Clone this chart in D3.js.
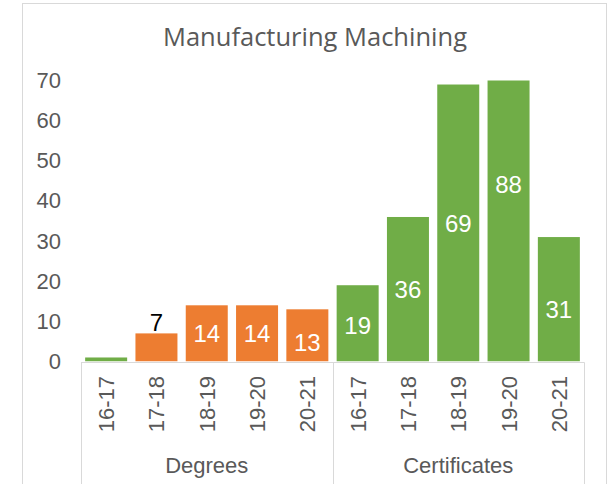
<!DOCTYPE html>
<html>
<head>
<meta charset="utf-8">
<script src="https://cdn.jsdelivr.net/npm/d3@7"></script>
<style>
  html, body { margin: 0; padding: 0; background: #fff; }
  svg { display: block; }
</style>
</head>
<body>
<script>
// chart data
var title = 'Manufacturing Machining';
var groups = ['Degrees', 'Certificates'];
var years = ['16-17', '17-18', '18-19', '19-20', '20-21'];
var degrees = [1, 7, 14, 14, 13];
var certificates = [19, 36, 69, 88, 31];
var yTicks = [0, 10, 20, 30, 40, 50, 60, 70];

var width = 611, height = 484;
var orange = '#ED7D31', green = '#70AD47';
var axisFont = '"Liberation Sans", Arial, sans-serif';

// flatten to one row per bar
var rows = [];
groups.forEach(function (g, gi) {
  var vals = gi === 0 ? degrees : certificates;
  years.forEach(function (y, i) {
    rows.push({ group: g, year: y, key: g + '|' + y, value: vals[i], idx: gi * 5 + i });
  });
});

var svg = d3.select('body').append('svg')
  .attr('width', width).attr('height', height)
  .style('font-family', axisFont);

// outer chart frame
svg.append('rect')
  .attr('x', 22.5).attr('y', 3.5)
  .attr('width', 584).attr('height', 520)
  .attr('fill', '#fff').attr('stroke', '#d9d9d9');

svg.append('text')
  .attr('x', 315).attr('y', 46)
  .attr('text-anchor', 'middle')
  .style('font-family', '"Open Sans", sans-serif')
  .style('font-size', '25.5px')
  .attr('fill', '#595959')
  .text(title);

var x = d3.scaleBand()
  .domain(rows.map(function (d) { return d.key }))
  .range([81, 584])
  .paddingInner(0.165)
  .paddingOuter(0.0825);

var y = d3.scaleLinear().domain([0, 70]).range([361.5, 80.5]);

svg.append('clipPath').attr('id', 'plot')
  .append('rect').attr('x', 81).attr('y', y(70)).attr('width', 503).attr('height', y(0) - y(70));

// y axis labels only, no line
var yAxis = svg.append('g')
  .attr('transform', 'translate(61,0)')
  .call(d3.axisLeft(y).tickValues(yTicks).tickSize(0).tickPadding(0));
yAxis.select('.domain').remove();
yAxis.selectAll('text')
  .style('font-size', '22px')
  .style('font-family', axisFont)
  .attr('fill', '#595959');

// bars, first degree point is green in the source
function barColor(d) {
  if (d.idx === 0) return green;
  return d.group === 'Degrees' ? orange : green;
}

svg.append('g').attr('clip-path', 'url(#plot)')
  .selectAll('rect')
  .data(rows)
  .enter()
  .append('rect')
  .attr('x', function (d) { return x(d.key) })
  .attr('width', x.bandwidth())
  .attr('y', function (d) { return y(d.value) })
  .attr('height', function (d) { return y(0) - y(d.value) })
  .attr('fill', barColor);

// data labels: centred in the bar, small ones sit above
var nudge = { 4: 7.5, 5: 2.5, 9: 10 };
svg.append('g')
  .selectAll('text')
  .data(rows.filter(function (d) { return d.value > 1 }))
  .enter()
  .append('text')
  .attr('x', function (d) { return x(d.key) + x.bandwidth() / 2 })
  .attr('y', function (d) {
    if (d.value < 10) return y(d.value) - 2;
    return (y(d.value) + y(0)) / 2 + 8.5 + (nudge[d.idx] || 0);
  })
  .attr('text-anchor', 'middle')
  .style('font-size', '24px')
  .attr('fill', function (d) { return d.value < 10 ? '#000' : '#fff' })
  .text(function (d) { return d.value });

// category axis
var axisG = svg.append('g');
axisG.append('line')
  .attr('x1', 81).attr('x2', 584.5)
  .attr('y1', 362.5).attr('y2', 362.5)
  .attr('stroke', '#d9d9d9');

var groupEdges = [81, (x(rows[4].key) + x.bandwidth() + x(rows[5].key)) / 2, 584];
axisG.selectAll('line.sep')
  .data(groupEdges)
  .enter()
  .append('line')
  .attr('class', 'sep')
  .attr('x1', function (d) { return Math.round(d) + 0.5 })
  .attr('x2', function (d) { return Math.round(d) + 0.5 })
  .attr('y1', 362.5).attr('y2', 490)
  .attr('stroke', '#d9d9d9');

axisG.selectAll('text.year')
  .data(rows)
  .enter()
  .append('text')
  .attr('class', 'year')
  .attr('transform', function (d) {
    return 'translate(' + (x(d.key) + x.bandwidth() / 2 + 8) + ',376) rotate(-90)';
  })
  .attr('text-anchor', 'end')
  .style('font-size', '22px')
  .attr('fill', '#595959')
  .text(function (d) { return d.year });

axisG.selectAll('text.group')
  .data(groups)
  .enter()
  .append('text')
  .attr('class', 'group')
  .attr('x', function (d, i) { return (groupEdges[i] + groupEdges[i + 1]) / 2 })
  .attr('y', 473)
  .attr('text-anchor', 'middle')
  .style('font-size', '22px')
  .attr('fill', '#595959')
  .text(function (d) { return d });
</script>
</body>
</html>
